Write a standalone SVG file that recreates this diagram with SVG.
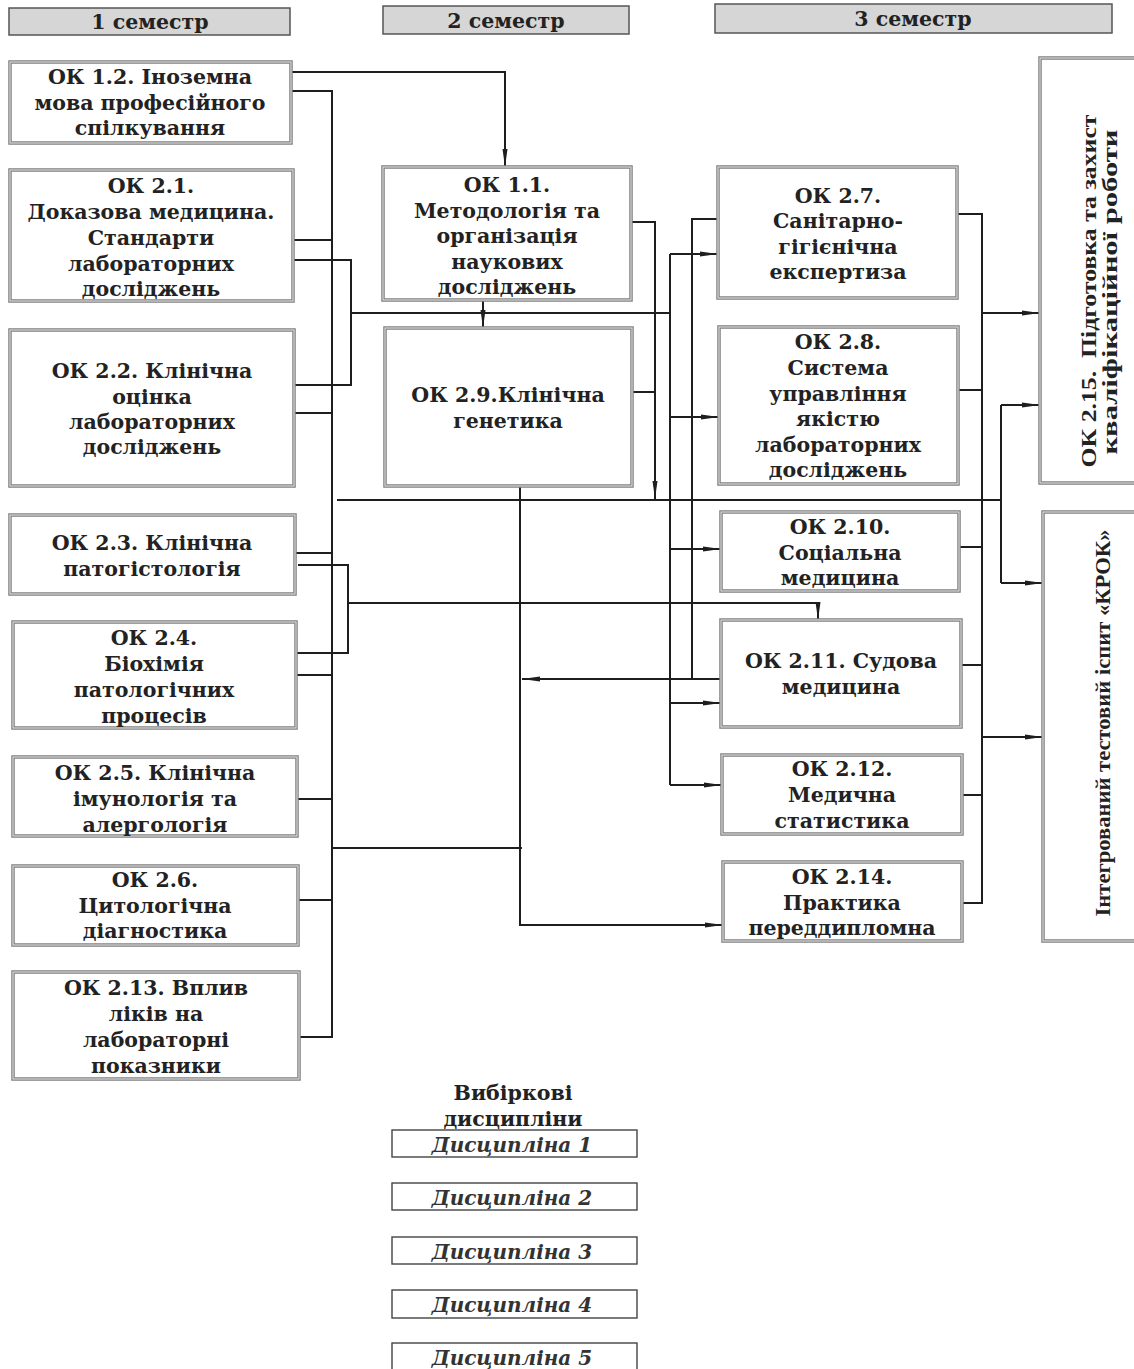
<svg xmlns="http://www.w3.org/2000/svg" width="1134" height="1369" viewBox="0 0 1134 1369">
<style>
.bx{fill:#fff;stroke:#808080;stroke-width:3.5}
.bi{fill:none;stroke:#e6e6e6;stroke-width:1}
.hd{fill:#d6d6d6;stroke:#555;stroke-width:1.5}
.el{fill:#fff;stroke:#444;stroke-width:1.4}
.t{font-family:"DejaVu Serif","Liberation Serif",serif;font-weight:bold;font-size:20.5px;fill:#222;text-anchor:middle}
.r{font-family:"Liberation Serif","Times New Roman",serif;font-weight:bold;font-size:21px;fill:#222;text-anchor:middle}
.h{font-family:"DejaVu Serif","Liberation Serif",serif;font-weight:bold;font-size:20.5px;fill:#222;text-anchor:middle}
.i{font-family:"DejaVu Serif","Liberation Serif",serif;font-weight:bold;font-style:italic;font-size:20px;fill:#333;text-anchor:middle}
.c{fill:none;stroke:#1e1e1e;stroke-width:2}
.a{fill:none;stroke:#1e1e1e;stroke-width:2;marker-end:url(#ah)}
</style>
<defs>
<marker id="ah" markerUnits="userSpaceOnUse" markerWidth="20" markerHeight="10" refX="18" refY="4" orient="auto">
<path d="M0,1.5 L18,4 L0,6.5 z" fill="#1e1e1e"/>
</marker>
</defs>
<rect width="1134" height="1369" fill="#fff"/>

<g id="headers">
<rect class="hd" x="9" y="8" width="281" height="27"/>
<text class="h" x="150" y="29">1 семестр</text>
<rect class="hd" x="383" y="6" width="246" height="28"/>
<text class="h" x="506" y="28">2 семестр</text>
<rect class="hd" x="715" y="4" width="397" height="29"/>
<text class="h" x="913" y="26">3 семестр</text>
</g>

<g id="connectors">
<path class="a" d="M291,72 H505 V167"/>
<path class="c" d="M291,91 H332 V1037 H299"/>
<path class="c" d="M293,240 H332 M294,413 H332 M295,553 H332 M296,675 H332 M297,799 H332 M298,900 H332"/>
<path class="c" d="M293,260 H351 V385 H294 M351,313 H670"/>
<path class="c" d="M332,848 H522"/>
<path class="c" d="M337,500 H1001"/>
<path class="c" d="M298,565 H348 V653 H296"/>
<path class="a" d="M348,603 H818 V620"/>
<path class="a" d="M483,300 V328"/>
<path class="a" d="M631,222 H655 V499"/>
<path class="c" d="M632,392 H655"/>
<path class="c" d="M670,254 V785"/>
<path class="a" d="M670,254 H718"/>
<path class="a" d="M670,417 H719"/>
<path class="a" d="M670,549 H721"/>
<path class="a" d="M670,703 H721"/>
<path class="a" d="M670,785 H722"/>
<path class="c" d="M718,219 H692 V679"/>
<path class="a" d="M721,679 H522"/>
<path class="a" d="M520,486 V925 H723"/>
<path class="c" d="M957,214 H982 V903 H962"/>
<path class="c" d="M958,390 H982 M959,547 H982 M961,665 H982 M962,795 H982"/>
<path class="a" d="M982,313 H1040"/>
<path class="a" d="M982,737 H1043"/>
<path class="c" d="M1001,405 V583"/>
<path class="a" d="M1001,405 H1040"/>
<path class="a" d="M1001,583 H1043"/>
</g>

<g id="ok12"><rect class="bx" x="10" y="62" width="281" height="81"/><rect class="bi" x="10" y="62" width="281" height="81"/>
<text class="t"><tspan x="150" y="84">ОК 1.2. Іноземна</tspan><tspan x="150" y="110">мова професійного</tspan><tspan x="150" y="135">спілкування</tspan></text></g>

<g id="ok21"><rect class="bx" x="10" y="170" width="283" height="131"/><rect class="bi" x="10" y="170" width="283" height="131"/>
<text class="t"><tspan x="151" y="193">ОК 2.1.</tspan><tspan x="151" y="219">Доказова медицина.</tspan><tspan x="151" y="245">Стандарти</tspan><tspan x="151" y="271">лабораторних</tspan><tspan x="151" y="296">досліджень</tspan></text></g>

<g id="ok22"><rect class="bx" x="10" y="330" width="284" height="156"/><rect class="bi" x="10" y="330" width="284" height="156"/>
<text class="t"><tspan x="152" y="378">ОК 2.2. Клінічна</tspan><tspan x="152" y="404">оцінка</tspan><tspan x="152" y="429">лабораторних</tspan><tspan x="152" y="454">досліджень</tspan></text></g>

<g id="ok23"><rect class="bx" x="10" y="515" width="285" height="79"/><rect class="bi" x="10" y="515" width="285" height="79"/>
<text class="t"><tspan x="152" y="550">ОК 2.3. Клінічна</tspan><tspan x="152" y="576">патогістологія</tspan></text></g>

<g id="ok24"><rect class="bx" x="13" y="622" width="283" height="106"/><rect class="bi" x="13" y="622" width="283" height="106"/>
<text class="t"><tspan x="154" y="645">ОК 2.4.</tspan><tspan x="154" y="671">Біохімія</tspan><tspan x="154" y="697">патологічних</tspan><tspan x="154" y="723">процесів</tspan></text></g>

<g id="ok25"><rect class="bx" x="13" y="757" width="284" height="79"/><rect class="bi" x="13" y="757" width="284" height="79"/>
<text class="t"><tspan x="155" y="780">ОК 2.5. Клінічна</tspan><tspan x="155" y="806">імунологія та</tspan><tspan x="155" y="832">алергологія</tspan></text></g>

<g id="ok26"><rect class="bx" x="13" y="866" width="285" height="79"/><rect class="bi" x="13" y="866" width="285" height="79"/>
<text class="t"><tspan x="155" y="887">ОК 2.6.</tspan><tspan x="155" y="913">Цитологічна</tspan><tspan x="155" y="938">діагностика</tspan></text></g>

<g id="ok213"><rect class="bx" x="13" y="972" width="286" height="107"/><rect class="bi" x="13" y="972" width="286" height="107"/>
<text class="t"><tspan x="156" y="995">ОК 2.13. Вплив</tspan><tspan x="156" y="1021">ліків на</tspan><tspan x="156" y="1047">лабораторні</tspan><tspan x="156" y="1073">показники</tspan></text></g>

<g id="ok11"><rect class="bx" x="383" y="167" width="248" height="133"/><rect class="bi" x="383" y="167" width="248" height="133"/>
<text class="t"><tspan x="507" y="192">ОК 1.1.</tspan><tspan x="507" y="218">Методологія та</tspan><tspan x="507" y="243">організація</tspan><tspan x="507" y="269">наукових</tspan><tspan x="507" y="294">досліджень</tspan></text></g>

<g id="ok29"><rect class="bx" x="385" y="328" width="247" height="158"/><rect class="bi" x="385" y="328" width="247" height="158"/>
<text class="t"><tspan x="508" y="402">ОК 2.9.Клінічна</tspan><tspan x="508" y="428">генетика</tspan></text></g>

<g id="ok27"><rect class="bx" x="718" y="167" width="239" height="131"/><rect class="bi" x="718" y="167" width="239" height="131"/>
<text class="t"><tspan x="838" y="203">ОК 2.7.</tspan><tspan x="838" y="228">Санітарно-</tspan><tspan x="838" y="254">гігієнічна</tspan><tspan x="838" y="279">експертиза</tspan></text></g>

<g id="ok28"><rect class="bx" x="719" y="327" width="239" height="157"/><rect class="bi" x="719" y="327" width="239" height="157"/>
<text class="t"><tspan x="838" y="349">ОК  2.8.</tspan><tspan x="838" y="375">Система</tspan><tspan x="838" y="401">управління</tspan><tspan x="838" y="426">якістю</tspan><tspan x="838" y="452">лабораторних</tspan><tspan x="838" y="477">досліджень</tspan></text></g>

<g id="ok210"><rect class="bx" x="721" y="512" width="238" height="79"/><rect class="bi" x="721" y="512" width="238" height="79"/>
<text class="t"><tspan x="840" y="534">ОК 2.10.</tspan><tspan x="840" y="560">Соціальна</tspan><tspan x="840" y="585">медицина</tspan></text></g>

<g id="ok211"><rect class="bx" x="721" y="620" width="240" height="107"/><rect class="bi" x="721" y="620" width="240" height="107"/>
<text class="t"><tspan x="841" y="668">ОК 2.11. Судова</tspan><tspan x="841" y="694">медицина</tspan></text></g>

<g id="ok212"><rect class="bx" x="722" y="755" width="240" height="79"/><rect class="bi" x="722" y="755" width="240" height="79"/>
<text class="t"><tspan x="842" y="776">ОК 2.12.</tspan><tspan x="842" y="802">Медична</tspan><tspan x="842" y="828">статистика</tspan></text></g>

<g id="ok214"><rect class="bx" x="723" y="862" width="239" height="79"/><rect class="bi" x="723" y="862" width="239" height="79"/>
<text class="t"><tspan x="842" y="884">ОК 2.14.</tspan><tspan x="842" y="910">Практика</tspan><tspan x="842" y="935">переддипломна</tspan></text></g>

<g id="ok215"><rect class="bx" x="1040" y="58" width="100" height="425"/><rect class="bi" x="1040" y="58" width="100" height="425"/>
<text class="r" transform="translate(1096,291) rotate(-90)" textLength="353" lengthAdjust="spacingAndGlyphs" xml:space="preserve">ОК 2.15.  Підготовка та захист</text>
<text class="r" transform="translate(1117,292) rotate(-90)" textLength="325" lengthAdjust="spacingAndGlyphs">кваліфікаційної роботи</text></g>

<g id="krok"><rect class="bx" x="1043" y="512" width="100" height="429"/><rect class="bi" x="1043" y="512" width="100" height="429"/>
<text class="r" transform="translate(1110,723) rotate(-90)" textLength="387" lengthAdjust="spacingAndGlyphs">Інтегрований тестовий іспит «КРОК»</text></g>

<g id="electives">
<text class="t"><tspan x="513" y="1100">Вибіркові</tspan><tspan x="513" y="1126">дисципліни</tspan></text>
<rect class="el" x="392" y="1130" width="245" height="27"/><text class="i" x="512" y="1152">Дисципліна 1</text>
<rect class="el" x="392" y="1183" width="245" height="27"/><text class="i" x="512" y="1205">Дисципліна 2</text>
<rect class="el" x="392" y="1237" width="245" height="27"/><text class="i" x="512" y="1259">Дисципліна 3</text>
<rect class="el" x="392" y="1290" width="245" height="28"/><text class="i" x="512" y="1312">Дисципліна 4</text>
<rect class="el" x="392" y="1343" width="245" height="30"/><text class="i" x="512" y="1365">Дисципліна 5</text>
</g>
</svg>
